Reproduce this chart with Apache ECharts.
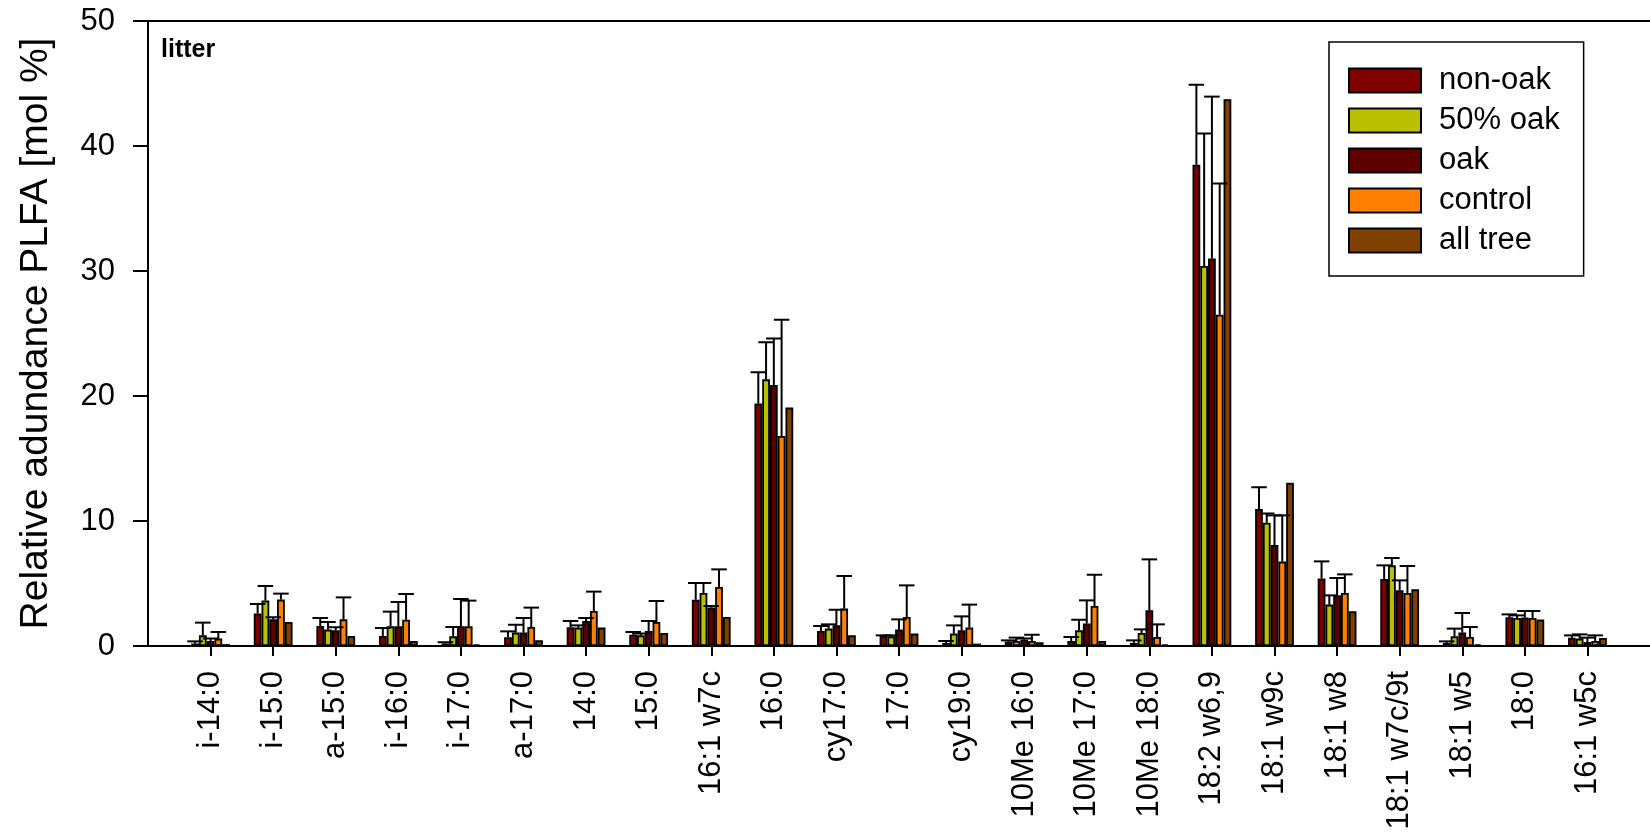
<!DOCTYPE html>
<html>
<head>
<meta charset="utf-8">
<script src="https://cdn.jsdelivr.net/npm/echarts@6/dist/echarts.min.js"></script>
<style>
  html, body { margin: 0; padding: 0; background: #fff; }
  #chart { width: 1650px; height: 835px; }
</style>
</head>
<body>
<div id="chart"></div>
<script>
// PLFA categories
const categories = ['i-14:0', 'i-15:0', 'a-15:0', 'i-16:0', 'i-17:0', 'a-17:0', '14:0', '15:0',
  '16:1 w7c', '16:0', 'cy17:0', '17:0', 'cy19:0', '10Me 16:0', '10Me 17:0', '10Me 18:0',
  '18:2 w6,9', '18:1 w9c', '18:1 w8', '18:1 w7c/9t', '18:1 w5', '18:0', '16:1 w5c'];

const seriesNames = ['non-oak', '50% oak', 'oak', 'control', 'all tree'];
const seriesColors = ['#800000', '#bbc000', '#5e0000', '#ff8000', '#804000'];

// mean values [mol %]
const nonOak = [0.2, 2.6, 1.6, 0.8, 0.2, 0.7, 1.5, 0.9, 3.7, 19.4, 1.2, 0.8, 0.25, 0.35, 0.4, 0.25, 38.5, 10.95, 5.4, 5.35, 0.25, 2.3, 0.65];
const oak50 = [0.85, 3.63, 1.31, 1.57, 0.77, 1.07, 1.47, 0.85, 4.24, 21.33, 1.39, 0.77, 0.99, 0.4, 1.25, 1.04, 30.4, 9.86, 3.31, 6.45, 0.77, 2.24, 0.59];
const oak = [0.4, 2.13, 1.25, 1.57, 1.57, 1.07, 2.0, 1.2, 3.07, 20.88, 1.65, 1.31, 1.25, 0.5, 1.79, 2.85, 31.0, 8.08, 4.05, 4.45, 1.07, 2.27, 0.32];
const control = [0.59, 3.71, 2.13, 2.1, 1.57, 1.52, 2.8, 1.92, 4.72, 16.8, 2.99, 2.32, 1.47, 0.4, 3.2, 0.72, 26.5, 6.75, 4.24, 4.24, 0.72, 2.24, 0.4];
const allTree = [0.15, 1.92, 0.8, 0.4, 0.13, 0.45, 1.47, 1.04, 2.32, 19.07, 0.85, 0.99, 0.19, 0.3, 0.4, 0.13, 43.74, 13.05, 2.77, 4.53, 0.13, 2.11, 0.64];

// upper error (SD)
const nonOakErr = [0.17, 0.76, 0.64, 0.64, 0.1, 0.47, 0.5, 0.22, 1.34, 2.5, 0.4, 0.05, 0.15, 0.1, 0.32, 0.2, 6.4, 1.75, 1.37, 1.1, 0.12, 0.23, 0.2];
const oak50Err = [1.02, 1.17, 0.61, 1.18, 0.75, 0.63, 0.18, 0.15, 0.8, 2.97, 0.34, 0.08, 0.66, 0.27, 0.85, 0.29, 10.6, 0.74, 0.74, 0.59, 0.62, 0.21, 0.34];
const oakErr = [0.2, 0.17, 0.25, 1.95, 2.19, 1.17, 0.24, 0.8, 0.13, 3.72, 1.25, 0.82, 1.12, 0.1, 1.86, 4.08, 12.95, 2.37, 1.39, 0.8, 1.57, 0.53, 0.35];
const controlErr = [0.53, 0.48, 1.76, 2.06, 2.06, 1.55, 1.55, 1.68, 1.41, 9.3, 2.61, 2.53, 1.84, 0.5, 2.5, 1.01, 10.5, 3.7, 1.49, 2.16, 0.8, 0.56, 0.45];

const yTicks = [0, 10, 20, 30, 40, 50];

const values = [nonOak, oak50, oak, control, allTree];
const errors = [nonOakErr, oak50Err, oakErr, controlErr, null];

const FONT = "'Liberation Sans', Arial, sans-serif";
const CAT_GAP = 0.38;
const LW = 2;

// leere Kategorie vorne und hinten (Abstand wie im Original)
const axisCats = [''].concat(categories, ['']);

let chart = echarts.init(document.getElementById('chart'), null, { renderer: 'canvas' });

// Fehlerbalken zeichnen
function errorRenderer(k) {
  return function (params, api) {
    let idx = api.value(0);
    let v = api.value(1);
    let e = api.value(2);
    let p0 = api.coord([idx, v]);
    let p1 = api.coord([idx, v + e]);
    let band = api.size([1, 0])[0];
    let bw = band * (1 - CAT_GAP) / 5;
    let x = p0[0] + (k - 2) * bw;
    let style = { stroke: '#000', lineWidth: LW };
    return {
      type: 'group',
      children: [
        { type: 'line', shape: { x1: x, y1: p0[1], x2: x, y2: p1[1] }, style },
        { type: 'line', shape: { x1: x - bw, y1: p1[1], x2: x + bw, y2: p1[1] }, style }
      ]
    };
  };
}

let series = [];
values.forEach((vals, k) => {
  series.push({
    name: seriesNames[k],
    type: 'bar',
    barGap: '0%',
    barCategoryGap: (CAT_GAP * 100) + '%',
    itemStyle: { color: seriesColors[k], borderColor: '#000', borderWidth: 1.8 },
    data: vals.map((v, i) => [i + 1, v]),
    z: 2
  });
});
errors.forEach((errs, k) => {
  if (!errs) return;
  series.push({
    type: 'custom',
    renderItem: errorRenderer(k),
    data: errs.map((e, i) => [i + 1, values[k][i], e]),
    encode: { x: 0, y: [1, 2] },
    z: 3,
    silent: true
  });
});

let option = {
  animation: false,
  backgroundColor: '#fff',
  textStyle: { fontFamily: FONT },
  title: {
    text: 'litter',
    left: 161,
    top: 38,
    padding: 0,
    textStyle: { fontFamily: FONT, fontSize: 25, fontWeight: 'bold', color: '#000' }
  },
  legend: {
    orient: 'vertical',
    left: 1329,
    top: 42,
    padding: [23, 24, 20, 19],
    itemWidth: 72,
    itemHeight: 24,
    itemGap: 9,
    borderColor: '#000',
    borderWidth: 1.5,
    icon: 'rect',
    data: seriesNames,
    textStyle: { fontFamily: FONT, fontSize: 31, color: '#000', padding: [0, 0, 0, 13] }
  },
  grid: {
    left: 148,
    top: 21,
    width: 1519,
    height: 625
  },
  xAxis: [{
    type: 'category',
    data: axisCats,
    boundaryGap: false,
    axisLine: { lineStyle: { color: '#000', width: LW } },
    axisTick: {
      length: 10,
      lineStyle: { color: '#000', width: LW },
      interval: (i, val) => val !== ''
    },
    axisLabel: {
      interval: 0,
      rotate: 90,
      margin: 25,
      fontSize: 31,
      fontFamily: FONT,
      color: '#000'
    },
    splitLine: { show: false }
  }, {
    type: 'category',
    data: axisCats,
    position: 'top',
    boundaryGap: false,
    axisLine: { lineStyle: { color: '#000', width: LW } },
    axisTick: { show: false },
    axisLabel: { show: false }
  }],
  yAxis: {
    type: 'value',
    min: yTicks[0],
    max: yTicks[yTicks.length - 1],
    interval: 10,
    name: 'Relative adundance PLFA [mol %]',
    nameLocation: 'middle',
    nameGap: 92,
    nameTextStyle: { fontFamily: FONT, fontSize: 39, color: '#000' },
    axisLine: { show: true, lineStyle: { color: '#000', width: LW } },
    axisTick: { show: true, length: 15, lineStyle: { color: '#000', width: LW } },
    axisLabel: { margin: 33, fontSize: 31, fontFamily: FONT, color: '#000' },
    splitLine: { show: false }
  },
  series
};

chart.setOption(option);
</script>
</body>
</html>
